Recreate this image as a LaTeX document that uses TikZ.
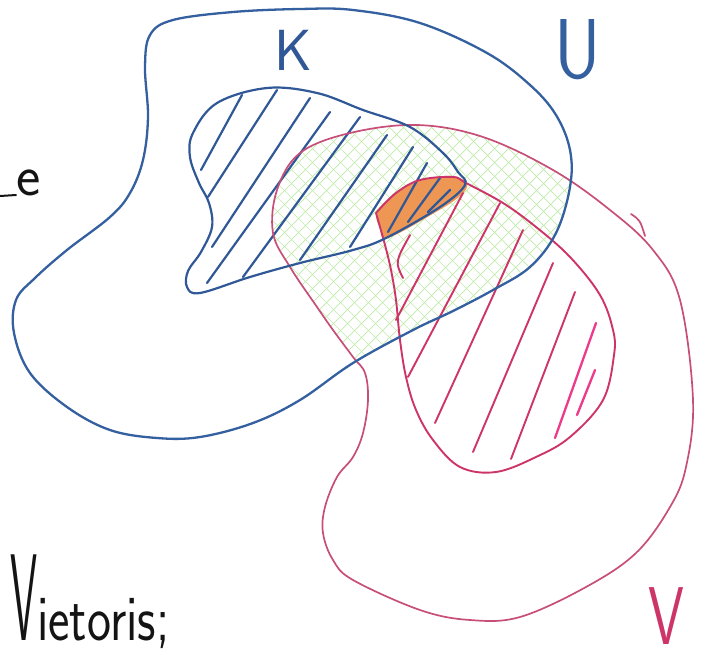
\documentclass[tikz,border=0pt]{standalone}
\usepackage{fontspec}
\usepackage{graphicx}
\definecolor{ublue}{RGB}{52,96,160}
\definecolor{kblue}{RGB}{48,88,150}
\definecolor{vpink}{RGB}{200,78,122}
\definecolor{vinner}{RGB}{205,52,104}
\definecolor{vbright}{RGB}{238,58,138}
\definecolor{hgreen}{RGB}{190,234,168}
\definecolor{ofill}{RGB}{238,150,84}
\definecolor{ink}{RGB}{20,20,20}
\begin{document}
\begin{tikzpicture}[x=1pt,y=-1pt,
  upen/.style={draw=ublue, line width=2.3pt, line join=round, line cap=round},
  kpen/.style={draw=kblue, line width=2.2pt, line join=round, line cap=round},
  vouter/.style={draw=vpink, line width=1.7pt, line join=round, line cap=round},
  vpen/.style={draw=vinner, line width=1.9pt, line join=round, line cap=round},
  vbr/.style={draw=vbright, line width=2.3pt, line cap=round},
  grn/.style={draw=hgreen, line width=0.7pt},
  lab/.style={inner sep=0pt, font=\sffamily}]
\useasboundingbox (0,0) rectangle (706,661);
\def\Ushape{plot[smooth cycle, tension=0.6] coordinates {(150,35) (173,20) (233,12) (300,9) (353,10) (420,23) (487,53) (530,85) (556,115) (570,150) (570,187) (556,233) (530,267) (493,290) (453,311) (413,330) (353,363) (300,400) (253,423) (200,437) (157,438) (110,430) (67,407) (30,373) (14,333) (16,300) (35,278) (67,250) (110,217) (130,193) (143,160) (148,117) (145,67)}}
\def\Vshape{plot[smooth cycle, tension=0.6] coordinates {(277,190) (300,153) (350,133) (417,125) (483,137) (553,170) (610,210) (653,250) (680,300) (693,400) (686,467) (670,507) (636,553) (586,587) (520,617) (470,620) (420,610) (353,580) (333,560) (323,533) (325,507) (337,477) (353,457) (363,433) (368,400) (365,373) (353,357) (333,330) (317,307) (290,267) (273,233)}}
% green cross-hatching of U cap V
\begin{scope}
  \clip \Ushape;
  \clip \Vshape;
  \foreach \i in {-676,-662,...,708} {
    \draw[grn] (\i,0) -- ++(661,661);
    \draw[grn] (\i,661) -- ++(661,-661);
  }
\end{scope}
\fill[white] (350,249) -- (374,214) -- (385,242) -- cycle;
% orange intersection
\fill[ofill] plot[smooth cycle, tension=0.6] coordinates {(377,212) (396,193) (422,180) (452,176) (467,184) (460,196) (436,212) (388,238) (380,228)};
% pink hatching of the inner V set
\draw[vpen] (403,278) .. controls (395,262) .. (410,235);
\draw[vpen] (396,320) -- (463,193);
\draw[vpen] (408,377) -- (500,203);
\draw[vpen] (435,423) -- (523,230);
\draw[vpen] (473,452) -- (553,263);
\draw[vpen] (511,459) -- (575,292);
\draw[vbr] (555,438) -- (596,323);
\draw[vbr] (577,415) -- (595,370);
% blue hatching of K
\draw[kpen] (201,170) -- (242,95);
\draw[kpen] (208,197) -- (277,90);
\draw[kpen] (212,247) -- (310,98);
\draw[kpen] (207,283) -- (330,112);
\draw[kpen] (243,277) -- (360,117);
\draw[kpen] (300,260) -- (387,135);
\draw[kpen] (350,247) -- (413,147);
\draw[kpen] (388,232) -- (427,163);
\draw[kpen] (408,222) -- (440,178);
\draw[kpen] (428,212) -- (450,190);
% outlines
\draw[vouter] \Vshape;
\draw[vouter] (631,214) .. controls (640,220) .. (645,236);
\draw[vpen] plot[smooth, tension=0.6] coordinates {(376,213) (396,193) (420,180) (453,177) (466,183) (503,203) (536,227) (570,257) (600,295) (613,330) (614,355) (603,400) (570,437) (536,457) (496,472) (460,467) (433,440) (416,410) (406,377) (400,340) (396,300) (391,270) (385,245) (376,213)};
\draw[upen] \Ushape;
\draw[kpen] plot[smooth cycle, tension=0.6] coordinates {(193,133) (217,103) (267,88) (317,93) (363,110) (410,127) (443,153) (458,172) (465,185) (440,207) (386,238) (353,250) (300,263) (250,277) (200,293) (187,287) (188,271) (201,252) (212,227) (209,203) (199,183) (190,157)};
% labels
\node[lab, text=kblue] (K) at (293,50) {\fontsize{58}{58}\selectfont K};
\node[lab, text=ublue] (U) at (578,50) {\scalebox{0.85}[1]{\fontsize{85}{85}\selectfont U}};
\node[lab, text=vinner] (V) at (666,616) {\scalebox{0.7}[1]{\fontsize{82}{82}\selectfont V}};
\node[lab, text=ink, anchor=base west] (e) at (16,195) {\fontsize{58}{58}\selectfont e};
\coordinate (estart) at (0,196);
\draw[ink, line width=2pt, line cap=round] (estart) .. controls (8,195) .. (e.base west);
\node[lab, text=ink, anchor=base west] (vietoris) at (10,640) {\scalebox{1.02}[1.3]{\fontsize{50}{50}\selectfont\scalebox{0.85}[1.9]{V}ietoris;}};
\end{tikzpicture}
\end{document}
